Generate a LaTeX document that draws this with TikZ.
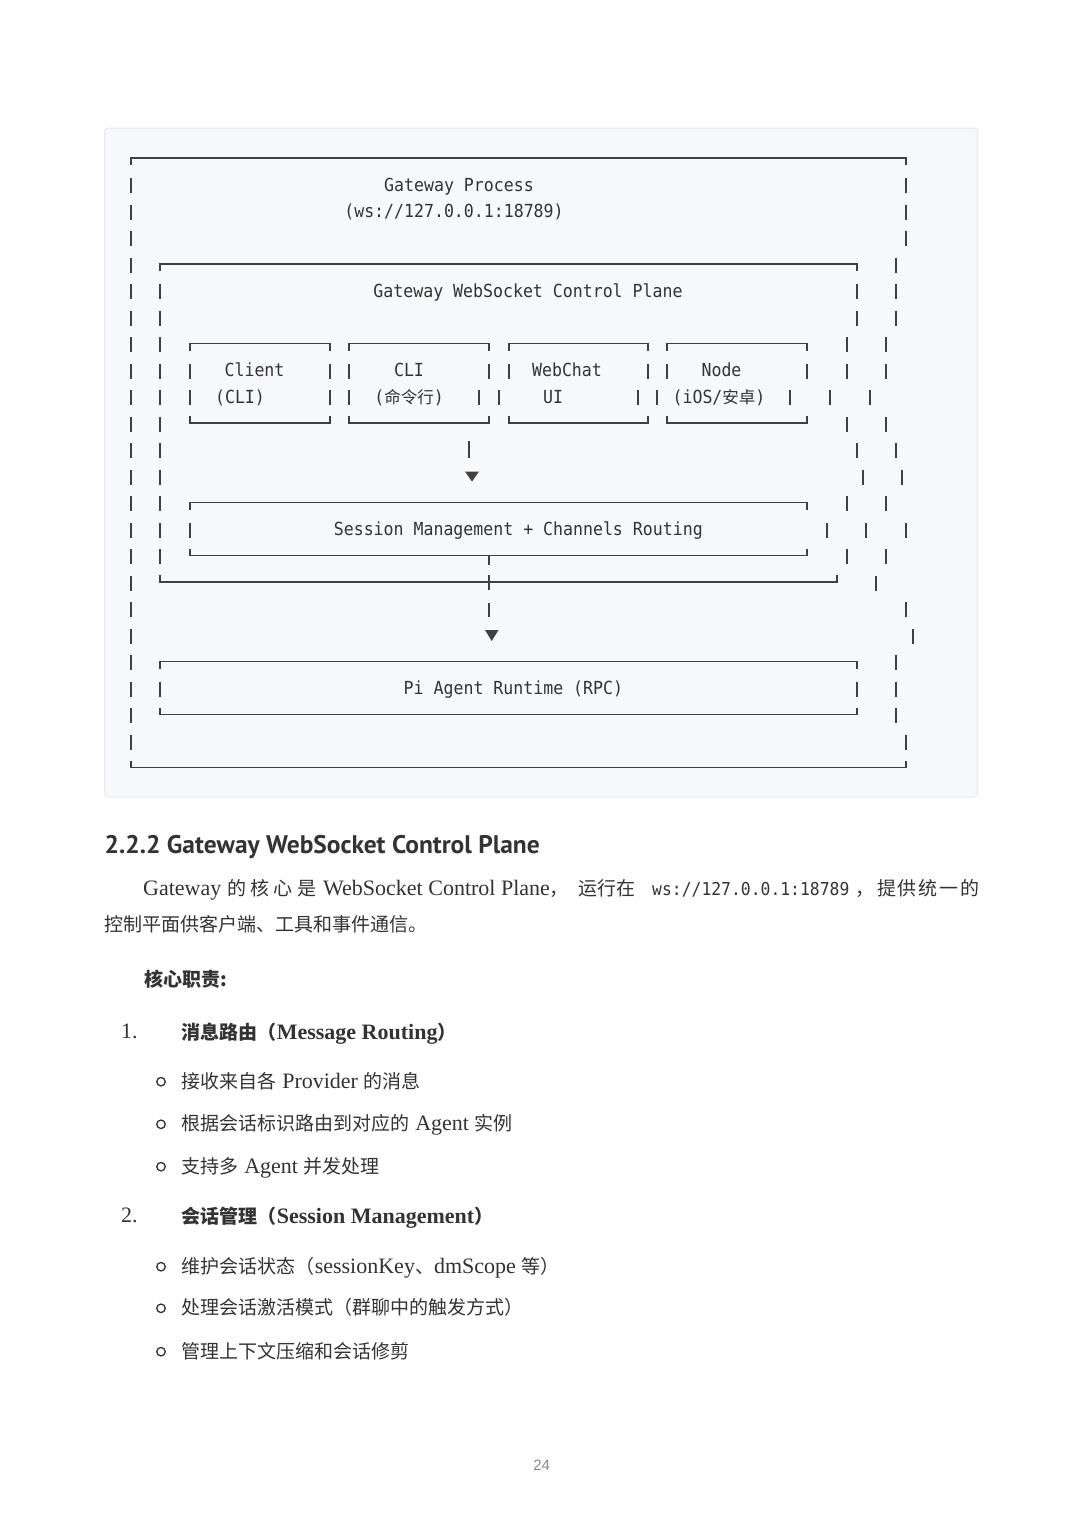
\documentclass[tikz,border=0pt]{standalone}
\usepackage{fontspec}
\setmainfont{Liberation Serif}
\newfontfamily\cjk{Noto Sans CJK SC}
\newfontfamily\monof{DejaVu Sans Mono}[FakeStretch=0.92]
\newfontfamily\headf{PT Sans}
\newfontfamily\pnumf{Liberation Sans}
\definecolor{ink}{HTML}{333333}
\definecolor{linec}{HTML}{404040}
\definecolor{codebg}{HTML}{F7F8FA}
\definecolor{codebd}{HTML}{E6E8EB}
\definecolor{pgray}{HTML}{8A8A8A}
\newcommand\zh[1]{{\cjk\fontsize{19}{24}\selectfont #1}}
\newcommand\zb[1]{{\cjk\bfseries\fontsize{19}{24}\selectfont #1}}
\newcommand\mzh[1]{{\cjk\fontsize{16.5}{20}\selectfont #1}}
\newcommand\vbar[2]{\draw[vl] (#1,#2-6.5) -- (#1,#2+8.5);}
\newcommand\topbox[3]{\draw[hl] (#1,#3+7) -- (#1,#3) -- (#2,#3) -- (#2,#3+7);}
\newcommand\botbox[3]{\draw[hl] (#1,#3-7) -- (#1,#3) -- (#2,#3) -- (#2,#3-7);}
\tikzset{
  vl/.style={draw=linec, line width=1.4pt},
  hl/.style={draw=linec, line width=1.6pt},
  ct/.style={inner sep=0pt, text=ink, anchor=base, font=\monof\fontsize{18}{22}\selectfont},
  body/.style={inner sep=0pt, text=ink, anchor=base west, font=\fontsize{22}{26}\selectfont},
  bul/.style={circle, draw=ink, line width=1.3pt, minimum size=8.5pt, inner sep=0pt},
  tri/.style={fill=linec},
}
\begin{document}
\begin{tikzpicture}[x=1pt,y=-1pt]
\useasboundingbox (0,0) rectangle (1080,1528);
\fill[white] (0,0) rectangle (1080,1528);
% code block background
\draw[fill=codebg, draw=codebd, line width=1pt, rounded corners=4pt] (104.5,128) rectangle (977.5,797);

% boxes
\topbox{131}{906}{158}
\botbox{131}{906}{767.5}
\topbox{160}{857}{264}
\botbox{160}{837}{582}
\foreach \a/\b in {190/330, 349/489, 509/648, 667/807} {
  \topbox{\a}{\b}{343.5}
  \botbox{\a}{\b}{423}
}
\topbox{190}{807}{502.5}
\botbox{190}{807}{555.5}
\topbox{160}{857}{661.5}
\botbox{160}{857}{714.5}

% vertical bars per text row
\foreach \r/\xs in {
  184.5/{131,906}, 211/{131,906}, 237.5/{131,906}, 264/{131,896},
  290.5/{131,160,857,896}, 317/{131,160,857,896}, 343.5/{131,160,847,886},
  370/{131,160,190,330,349,489,509,648,667,807,847,886},
  396.5/{131,160,190,330,349,479,499,638,657,790,830,870},
  423/{131,160,847,886}, 449.5/{131,160,857,896}, 476/{131,160,863,902},
  502.5/{131,160,847,886}, 529/{131,160,190,827,866,906}, 555.5/{131,160,847,886},
  582/{131,876}, 608.5/{131,906}, 635/{131,913}, 661.5/{131,896},
  688/{131,160,857,896}, 714.5/{131,896}, 741/{131,906}} {
  \foreach \x in \xs {\vbar{\x}{\r}}
}

% connectors
\coordinate (a1) at (469,441);
\coordinate (a2) at (469,458);
\draw[vl] (a1) -- (a2);
\fill[tri] (465,471.5) -- (479,471.5) -- (472,481.5) -- cycle;
\coordinate (c1) at (489,555.5);
\coordinate (c2) at (489,565);
\coordinate (c3) at (489,575);
\coordinate (c4) at (489,590);
\coordinate (c5) at (489,603);
\coordinate (c6) at (489,617);
\draw[vl] (c1) -- (c2);
\draw[vl] (c3) -- (c4);
\draw[vl] (c5) -- (c6);
\fill[tri] (485,630) -- (498.5,630) -- (491.7,641) -- cycle;

% diagram texts
\node[ct] (gp) at (459,191) {Gateway Process};
\node[ct] (ws) at (454,217.5) {(ws://127.0.0.1:18789)};
\node[ct] (cp) at (528,297) {Gateway WebSocket Control Plane};
\node[ct] (cl1) at (254.5,376.5) {Client};
\node[ct] (cl2) at (240,403) {(CLI)};
\node[ct] (cli1) at (409,376.5) {CLI};
\node[ct] (cli2) at (409,403) {(\mzh{命令行})};
\node[ct] (wc1) at (567,376.5) {WebChat};
\node[ct] (wc2) at (553,403) {UI};
\node[ct] (nd1) at (721.5,376.5) {Node};
\node[ct] (nd2) at (719,403) {(iOS/\mzh{安卓})};
\node[ct] (sm) at (518.3,535.5) {Session Management + Channels Routing};
\node[ct] (pi) at (513.4,694.5) {Pi Agent Runtime (RPC)};

% heading
\node[inner sep=0pt, text=ink, anchor=base west] (hd) at (104.5,853)
  {\resizebox{435pt}{!}{\headf\bfseries\fontsize{23}{28}\selectfont 2.2.2 Gateway WebSocket Control Plane}};

% paragraph
\node[body] (p1) at (143,895.5) {Gateway};
\node[body] (p2) at (227,895.5) {\zh{\makebox[89pt][s]{的\hfil 核\hfil 心\hfil 是}}};
\node[body] (p3) at (323,895.5) {WebSocket Control Plane\zh{，}};
\node[body] (p4) at (578,895.5) {\zh{运行在}};
\node[body, font=\monof\fontsize{17.8}{20}\selectfont] (p5) at (652,895.5) {ws://127.0.0.1:18789};
\node[body] (p6) at (855,895.5) {\zh{，}};
\node[body] (p7) at (877,895.5) {\zh{\makebox[102pt][s]{提\hfil 供\hfil 统\hfil 一\hfil 的}}};
\node[body] (p8) at (104,931) {\zh{控制平面供客户端、工具和事件通信。}};

\node[body] (core) at (144,986) {\zb{核心职责:}};

% list 1
\node[body] (n1) at (121,1038) {1.};
\node[body] (t1) at (181.6,1039) {\zb{消息路由（}{\bfseries Message Routing}\zb{）}};
\node[bul] (o1) at (161,1081.7) {};
\node[body] (b1) at (181.6,1088.2) {\zh{接收来自各} Provider \zh{的消息}};
\node[bul] (o2) at (161,1124.3) {};
\node[body] (b2) at (181.6,1130.8) {\zh{根据会话标识路由到对应的} Agent \zh{实例}};
\node[bul] (o3) at (161,1166.7) {};
\node[body] (b3) at (181.6,1173.2) {\zh{支持多} Agent \zh{并发处理}};

% list 2
\node[body] (n2) at (121,1222.7) {2.};
\node[body] (t2) at (181.6,1223.5) {\zb{会话管理（}{\bfseries Session Management}\zb{）}};
\node[bul] (o4) at (161,1266.7) {};
\node[body] (b4) at (181.6,1273.2) {\zh{维护会话状态（}sessionKey\zh{、}dmScope \zh{等）}};
\node[bul] (o5) at (161,1308.3) {};
\node[body] (b5) at (181.6,1314.8) {\zh{处理会话激活模式（群聊中的触发方式）}};
\node[bul] (o6) at (161,1351.7) {};
\node[body] (b6) at (181.6,1358.2) {\zh{管理上下文压缩和会话修剪}};

% page number
\node[inner sep=0pt, text=pgray, anchor=base, font=\pnumf\fontsize{15}{18}\selectfont] (pg) at (541.7,1470) {24};
\end{tikzpicture}
\end{document}
